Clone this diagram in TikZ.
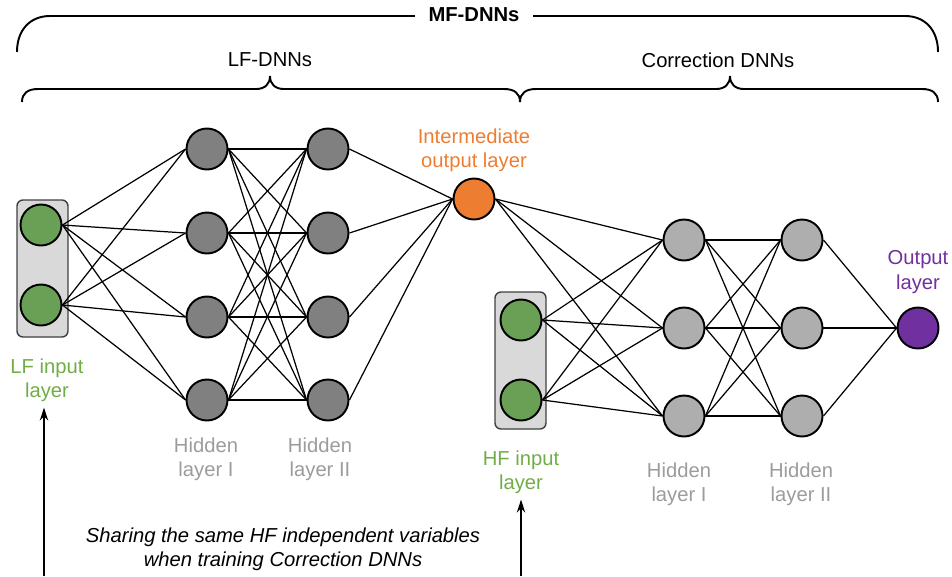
\documentclass[tikz,border=0pt]{standalone}
\usepackage{fontspec}
\setmainfont{Liberation Sans}
\usetikzlibrary{arrows.meta}

\definecolor{lfgreen}{HTML}{70AD47}
\definecolor{nodegreen}{HTML}{6AA055}
\definecolor{midorange}{HTML}{ED7D31}
\definecolor{outpurple}{HTML}{7030A0}
\definecolor{hiddark}{HTML}{808080}
\definecolor{hidlight}{HTML}{AEAEAE}
\definecolor{boxgray}{HTML}{D9D9D9}
\definecolor{labelgray}{HTML}{9C9C9C}

\tikzset{
  neuron/.style={circle, draw, line width=1.1pt, minimum size=0.82cm, inner sep=0pt},
  link/.style={line width=0.7pt},
  bracket/.style={line width=1.1pt},
  layertext/.style={align=center, font=\fontsize{11.5}{13.7}\selectfont},
  inbox/.style={draw=black!75, fill=boxgray, rounded corners=0.12cm, line width=0.8pt},
}

\begin{document}
\begin{tikzpicture}[x=0.02cm, y=-0.02cm]
    \useasboundingbox (0,0) rectangle (952,576);

    % braces
    \draw[bracket] (17,52) .. controls (17,30) and (30,16) .. (50,16) -- (905,16)
        .. controls (925,16) and (938,30) .. (938,52);
    \node[layertext, fill=white, inner xsep=0.28cm] (mftext) at (474,15) {\textbf{MF-DNNs}};
    \draw[bracket] (22,102) .. controls (22,93) and (28,89) .. (38,89) -- (256,89)
        .. controls (265,89) and (270,84) .. (270,76)
        .. controls (270,84) and (275,89) .. (284,89) -- (504,89)
        .. controls (514,89) and (520,93) .. (520,102);
    \draw[bracket] (520,102) .. controls (520,93) and (526,89) .. (536,89) -- (716,89)
        .. controls (725,89) and (730,84) .. (730,76)
        .. controls (730,84) and (735,89) .. (744,89) -- (922,89)
        .. controls (932,89) and (938,93) .. (938,102);
    \node[layertext] (lftext) at (270,60) {LF-DNNs};
    \node[layertext] (cortext) at (718,60) {Correction DNNs};

    % input boxes
    \draw[inbox] (17,200) rectangle (68,337);
    \draw[inbox] (495,292) rectangle (546,429);

    % neurons
    \node[neuron, fill=nodegreen] (lfin1) at (41,225) {};
    \node[neuron, fill=nodegreen] (lfin2) at (41,305) {};
    \foreach \i/\y in {1/149, 2/233, 3/317, 4/400} {
        \node[neuron, fill=hiddark] (la\i) at (207,\y) {};
        \node[neuron, fill=hiddark] (lb\i) at (328,\y) {};
    }
    \node[neuron, fill=midorange] (mid) at (474,199) {};
    \node[neuron, fill=nodegreen] (hfin1) at (521,320) {};
    \node[neuron, fill=nodegreen] (hfin2) at (521,400) {};
    \foreach \i/\y in {1/240, 2/328, 3/416} {
        \node[neuron, fill=hidlight] (ca\i) at (684,\y) {};
        \node[neuron, fill=hidlight] (cb\i) at (802,\y) {};
    }
    \node[neuron, fill=outpurple] (out) at (918,328) {};

    % connections
    \foreach \i in {1,2}
        \foreach \j in {1,...,4}
            \draw[link] (lfin\i.east) -- (la\j.west);
    \foreach \i in {1,...,4}
        \foreach \j in {1,...,4}
            \draw[link] (la\i.east) -- (lb\j.west);
    \foreach \i in {1,...,4}
        \draw[link] (lb\i.east) -- (mid.west);
    \foreach \j in {1,2,3}
        \draw[link] (mid.east) -- (ca\j.west);
    \foreach \i in {1,2}
        \foreach \j in {1,2,3}
            \draw[link] (hfin\i.east) -- (ca\j.west);
    \foreach \i in {1,2,3}
        \foreach \j in {1,2,3}
            \draw[link] (ca\i.east) -- (cb\j.west);
    \foreach \i in {1,2,3}
        \draw[link] (cb\i.east) -- (out.west);

    % layer labels
    \node[layertext, text=midorange] (midlabel) at (474,150) {Intermediate\\output layer};
    \node[layertext, text=lfgreen] (lflabel) at (47,380) {LF input\\layer};
    \node[layertext, text=labelgray] (lalabel) at (206,459) {Hidden\\layer I};
    \node[layertext, text=labelgray] (lblabel) at (320,459) {Hidden\\layer II};
    \node[layertext, text=lfgreen] (hflabel) at (521,472) {HF input\\layer};
    \node[layertext, text=labelgray] (calabel) at (679,484) {Hidden\\layer I};
    \node[layertext, text=labelgray] (cblabel) at (801,484) {Hidden\\layer II};
    \node[layertext, text=outpurple] (outlabel) at (918,272) {Output\\layer};
    \node[layertext] (sharetext) at (283,549) {\itshape Sharing the same HF independent variables\\\itshape when training Correction DNNs};

    % arrows
    \coordinate (lfbase) at (44,576);
    \coordinate (hfbase) at (521,576);
    \draw[link, -{Stealth[length=2.6mm, width=1.7mm]}] (lfbase) -- (lfbase |- lflabel.south);
    \draw[link, -{Stealth[length=2.6mm, width=1.7mm]}] (hfbase) -- (hfbase |- hflabel.south);
\end{tikzpicture}
\end{document}
